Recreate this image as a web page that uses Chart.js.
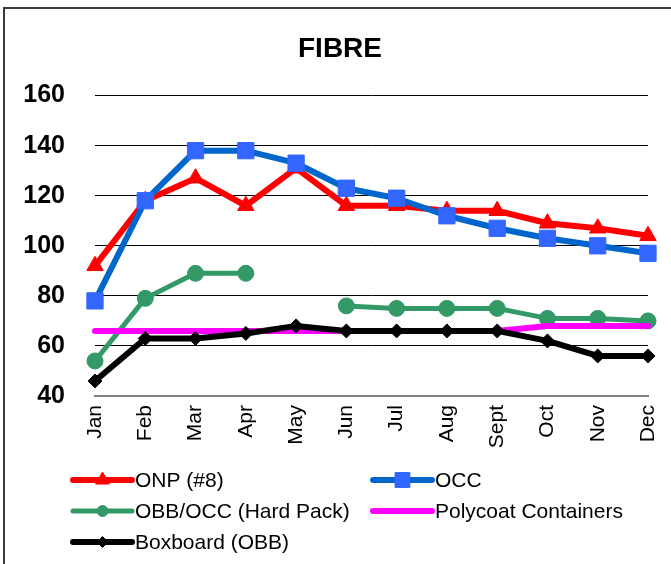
<!DOCTYPE html>
<html>
<head>
<meta charset="utf-8">
<script src="https://cdn.jsdelivr.net/npm/chart.js@4/dist/chart.umd.min.js"></script>
<style>
  html, body { margin: 0; padding: 0; background: #ffffff; }
  #wrap { position: relative; width: 671px; height: 564px; }
</style>
</head>
<body>
<div id="wrap"><canvas id="c" width="671" height="564"></canvas></div>
<script>
const months = ["Jan","Feb","Mar","Apr","May","Jun","Jul","Aug","Sept","Oct","Nov","Dec"];
const onp = [92,118,127,116,131,116,116,114,114,109,107,104];
const occ = [78,118,138,138,133,123,119,112,107,103,100,97];
const hardPack = [54,79,89,89,null,76,75,75,75,71,71,70];
const polycoat = [66,66,66,66,66,66,66,66,66,68,68,68];
const boxboard = [46,63,63,65,68,66,66,66,66,62,56,56];
const yTicks = [40,60,80,100,120,140,160];

const FONT = "'Liberation Sans', Arial, sans-serif";

const frame = {
  id: 'frame',
  afterLayout(chart) {
    const tb = chart.titleBlock;
    if (tb) { tb.left += 6; tb.right += 6; }
  },
  beforeDraw(chart) {
    const ctx = chart.ctx;
    ctx.save();
    ctx.fillStyle = '#ffffff';
    ctx.fillRect(0, 0, chart.width, chart.height);
    ctx.strokeStyle = '#3a3a3a';
    ctx.lineWidth = 2;
    ctx.strokeRect(4, 8, 720, 620);
    ctx.restore();
  }
};

function marker(ctx, style, x, y, r, fill, stroke) {
  ctx.save();
  ctx.fillStyle = fill;
  ctx.strokeStyle = stroke;
  ctx.lineWidth = 1;
  ctx.beginPath();
  if (style === 'triangle') {
    ctx.moveTo(x, y - r);
    ctx.lineTo(x + r * 0.866, y + r * 0.5);
    ctx.lineTo(x - r * 0.866, y + r * 0.5);
    ctx.closePath();
  } else if (style === 'rect') {
    const s = r * Math.SQRT1_2;
    ctx.rect(x - s, y - s, 2 * s, 2 * s);
  } else if (style === 'circle') {
    ctx.arc(x, y, r, 0, Math.PI * 2);
  } else if (style === 'rectRot') {
    ctx.moveTo(x - r, y); ctx.lineTo(x, y - r); ctx.lineTo(x + r, y); ctx.lineTo(x, y + r);
    ctx.closePath();
  }
  ctx.fill();
  ctx.stroke();
  ctx.restore();
}

const customLegend = {
  id: 'customLegend',
  afterDraw(chart) {
    const ctx = chart.ctx;
    const slots = [
      {x: 73, y: 480}, {x: 373, y: 480},
      {x: 73, y: 511}, {x: 373, y: 511},
      {x: 73, y: 542}
    ];
    chart.data.datasets.forEach((ds, i) => {
      const s = slots[i];
      if (!s) return;
      const len = 59;
      ctx.save();
      ctx.strokeStyle = ds.borderColor;
      ctx.lineWidth = ds.borderWidth;
      ctx.lineCap = 'round';
      ctx.beginPath();
      ctx.moveTo(s.x, s.y);
      ctx.lineTo(s.x + len, s.y);
      ctx.stroke();
      ctx.restore();
      if (ds.pointRadius > 0) {
        const lr = ds.pointStyle === 'rect' ? 10.5 : (ds.pointStyle === 'triangle' ? 8 : 5.5);
        marker(ctx, ds.pointStyle, s.x + len / 2, s.y, lr, ds.pointBackgroundColor, ds.pointBorderColor);
      }
      ctx.save();
      ctx.fillStyle = '#000000';
      ctx.font = '21px ' + FONT;
      ctx.textBaseline = 'middle';
      ctx.textAlign = 'left';
      ctx.fillText(ds.label, s.x + len + 3, s.y + 1);
      ctx.restore();
    });
  }
};

new Chart(document.getElementById('c'), {
  type: 'line',
  data: {
    labels: months,
    datasets: [
      { label: 'ONP (#8)', data: onp, borderColor: '#ff0000', borderWidth: 6,
        pointStyle: 'triangle', pointRadius: 9.5, pointBackgroundColor: '#ff0000', pointBorderColor: '#ff0000', pointBorderWidth: 1, order: 5 },
      { label: 'OCC', data: occ, borderColor: '#0066cc', borderWidth: 6,
        pointStyle: 'rect', pointRadius: 11.5, pointBackgroundColor: '#3366ff', pointBorderColor: '#3366ff', pointBorderWidth: 1, order: 4 },
      { label: 'OBB/OCC (Hard Pack)', data: hardPack, borderColor: '#339966', borderWidth: 5,
        pointStyle: 'circle', pointRadius: 8, pointBackgroundColor: '#339966', pointBorderColor: '#339966', pointBorderWidth: 1, order: 3, spanGaps: false },
      { label: 'Polycoat Containers', data: polycoat, borderColor: '#ff00ff', borderWidth: 6,
        pointStyle: 'circle', pointRadius: 0, pointBackgroundColor: '#ff00ff', pointBorderColor: '#ff00ff', order: 2 },
      { label: 'Boxboard (OBB)', data: boxboard, borderColor: '#000000', borderWidth: 6,
        pointStyle: 'rectRot', pointRadius: 7, pointBackgroundColor: '#000000', pointBorderColor: '#000000', pointBorderWidth: 1, order: 1 }
    ]
  },
  options: {
    responsive: false,
    animation: false,
    devicePixelRatio: 1,
    layout: { padding: { left: 20, right: 23, top: 0, bottom: 108 } },
    elements: { line: { tension: 0, borderJoinStyle: 'round', borderCapStyle: 'round' } },
    plugins: {
      legend: { display: false },
      tooltip: { enabled: false },
      title: {
        display: true, text: 'FIBRE', color: '#000000',
        font: { family: FONT, size: 28, weight: 'bold', lineHeight: 1.2 },
        padding: { top: 32, bottom: 30 }
      }
    },
    scales: {
      x: {
        offset: false,
        grid: { display: false, drawTicks: false },
        border: { display: true, color: '#808080', width: 2 },
        ticks: {
          color: '#000000', font: { family: FONT, size: 21 },
          maxRotation: 90, minRotation: 90, padding: 9, autoSkip: false
        },
        afterFit(scale) { scale.height = 60; scale.paddingLeft = 0; scale.paddingRight = 0; }
      },
      y: {
        min: 40, max: 160,
        afterBuildTicks(scale) { scale.ticks = yTicks.map(v => ({ value: v })); },
        grid: { color: '#000000', lineWidth: 1, drawTicks: false },
        border: { display: false },
        ticks: { color: '#000000', font: { family: FONT, size: 25, weight: 'bold' }, padding: 30 },
        afterFit(scale) { scale.width = 75; scale.paddingTop = 0; scale.paddingBottom = 0; }
      }
    }
  },
  plugins: [frame, customLegend]
});
</script>
</body>
</html>
